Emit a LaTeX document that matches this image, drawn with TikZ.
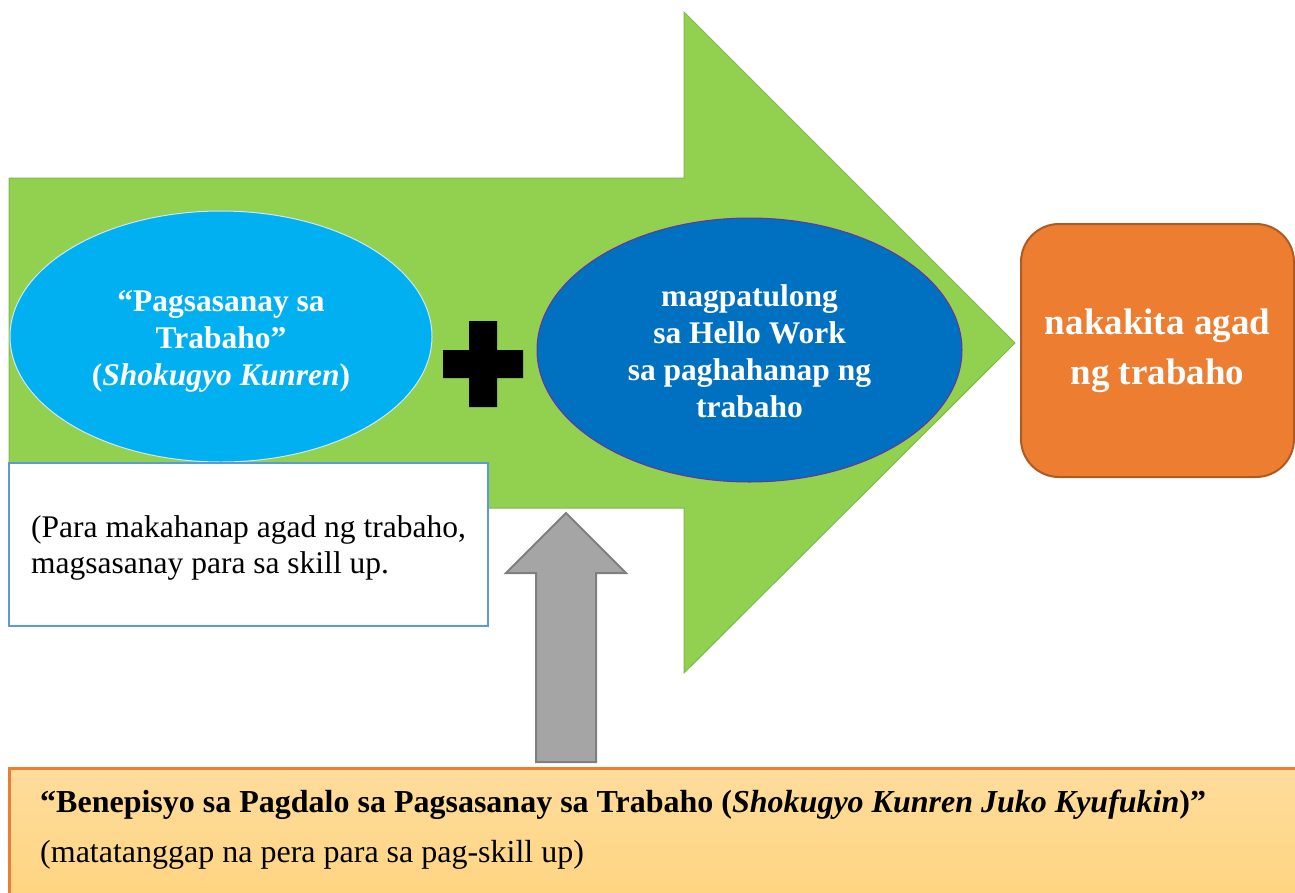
\documentclass[tikz,border=0pt]{standalone}
\usepackage{fontspec}
\setmainfont{Liberation Serif}
\usetikzlibrary{shapes.geometric}
\definecolor{bgreen}{HTML}{92D050}
\definecolor{bgreenline}{HTML}{7FB84A}
\definecolor{lblue}{HTML}{00B0F0}
\definecolor{lblueline}{HTML}{CFE6F4}
\definecolor{dblue}{HTML}{0070C0}
\definecolor{dblueline}{HTML}{7030A0}
\definecolor{orangefill}{HTML}{ED7D31}
\definecolor{orangeline}{HTML}{AE5A21}
\definecolor{boxline}{HTML}{5B9BD5}
\definecolor{grayfill}{HTML}{A5A5A5}
\definecolor{grayline}{HTML}{7F7F7F}
\definecolor{goldtop}{HTML}{FEDC9C}
\definecolor{goldbot}{HTML}{FFD47E}
\begin{document}
\begin{tikzpicture}[x=1pt,y=-1pt,
  oval/.style={ellipse, inner sep=0pt, minimum width=422pt, line width=1pt},
  ovaltext/.style={text=white, align=center, inner sep=0pt,
    font=\fontsize{31.5}{37}\selectfont\bfseries},
  resultbox/.style={draw=orangeline, fill=orangefill, line width=2pt,
    rounded corners=38pt, minimum width=273pt, minimum height=253pt,
    text=white, align=center, inner sep=0pt,
    font=\fontsize{37}{50}\selectfont\bfseries},
  notebox/.style={draw=boxline, fill=white, line width=1.5pt,
    minimum width=479pt, minimum height=163pt, inner sep=0pt},
  notetext/.style={align=left, inner sep=0pt, font=\fontsize{31.5}{36}\selectfont},
  bigarrow/.style={fill=bgreen, draw=bgreenline, line width=1pt},
  uparrow/.style={fill=grayfill, draw=grayline, line width=2pt},
  benefitbox/.style={draw=orangefill, line width=3pt, top color=goldtop, bottom color=goldbot}
]
\useasboundingbox (0,0) rectangle (1295,892);
\clip (0,0) rectangle (1295,892);

% big green arrow
\draw[bigarrow] (9,178) -- (684,178) -- (684,12) -- (1015,343) -- (684,673)
  -- (684,508) -- (9,508) -- cycle;

% ellipses
\node[oval, fill=lblue, draw=lblueline, minimum height=251pt] (train) at (221,336.5) {};
\node[ovaltext] (traintext) at (221,341.4)
  {“Pagsasanay sa\\Trabaho”\\(\textit{Shokugyo Kunren})};

\node[oval, fill=dblue, draw=dblueline, minimum width=425pt, minimum height=264pt] (hello) at (749.5,350) {};
\node[ovaltext] (hellotext) at (749.5,351)
  {magpatulong\\sa Hello Work\\sa paghahanap ng\\trabaho};

% plus sign
\fill[black] (469,321) -- (497,321) -- (497,350) -- (523,350) -- (523,378)
  -- (497,378) -- (497,407) -- (469,407) -- (469,378) -- (443,378)
  -- (443,350) -- (469,350) -- cycle;

% result box
\node[resultbox] (result) at (1157.5,350.5) {nakakita agad\\ng trabaho};

% note box
\node[notebox] (note) at (248.5,544.5) {};
\node[notetext, anchor=west] (notetxt) at (31,547.6)
  {(Para makahanap agad ng trabaho,\\magsasanay para sa skill up.};

% gray up arrow
\draw[uparrow] (536,762) -- (536,573) -- (506,573) -- (566,513) -- (626,573)
  -- (596,573) -- (596,762) -- cycle;

% benefit box
\path[benefitbox] (9,768) rectangle (1320,910);
\node[anchor=base west, inner sep=0pt, font=\fontsize{32}{38}\selectfont\bfseries] (benefit) at (40,812)
  {“Benepisyo sa Pagdalo sa Pagsasanay sa Trabaho (\textit{Shokugyo Kunren Juko Kyufukin})”};
\node[anchor=base west, inner sep=0pt, font=\fontsize{32}{38}\selectfont] (benefitnote) at (40,862)
  {(matatanggap na pera para sa pag-skill up)};
\end{tikzpicture}
\end{document}
